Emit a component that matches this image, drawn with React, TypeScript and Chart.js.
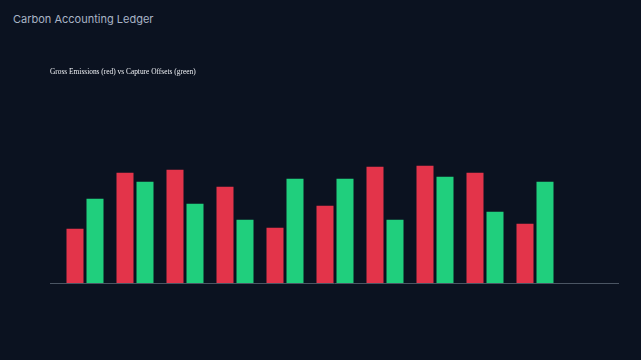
import React, { useEffect, useRef } from "react";
import { Chart, registerables } from "chart.js";

Chart.register(...registerables);

const periods = [0, 1, 2, 3, 4, 5, 6, 7, 8, 9];
const grossEmissions = [54, 110, 113, 96, 55, 77, 116, 117, 110, 59];
const captureOffsets = [84, 101, 79, 63, 104, 104, 63, 106, 71, 101];

export default function App() {
  const ref = useRef<HTMLCanvasElement | null>(null);

  useEffect(() => {
    const canvas = ref.current;
    if (!canvas) return;
    const chart = new Chart(canvas, {
      type: "bar",
      data: {
        datasets: [
          {
            label: "Gross Emissions",
            data: periods.map((p, i) => ({ x: p, y: grossEmissions[i] })),
            backgroundColor: "#e3344a",
            borderWidth: 0,
            categoryPercentage: 0.8,
            barPercentage: 0.85,
          },
          {
            label: "Capture Offsets",
            data: periods.map((p, i) => ({ x: p, y: captureOffsets[i] })),
            backgroundColor: "#20cf7d",
            borderWidth: 0,
            categoryPercentage: 0.8,
            barPercentage: 0.85,
          },
        ],
      },
      options: {
        responsive: false,
        animation: false,
        layout: { padding: { left: 50, right: 23, top: 0, bottom: 77 } },
        plugins: {
          legend: { display: false },
          tooltip: { enabled: false },
          title: {
            display: true,
            text: "Gross Emissions (red) vs Capture Offsets (green)",
            align: "start",
            color: "#eef0f4",
            font: { family: "'Liberation Serif', serif", size: 7.4, weight: "normal" },
            padding: { top: 68, bottom: 5.5 },
          },
        },
        scales: {
          x: {
            type: "linear",
            offset: false,
            min: -0.7,
            max: 10.66,
            grid: { display: false, drawTicks: false },
            ticks: { display: false },
            border: { display: true, color: "#4b5563", width: 1 },
          },
          y: {
            display: false,
            min: 0,
            max: 200,
          },
        },
      },
    });
    return () => chart.destroy();
  }, []);

  return (
    <div
      style={{
        position: "fixed",
        left: 0,
        top: 0,
        width: 641,
        height: 360,
        background: "#0b1220",
        overflow: "hidden",
      }}
    >
      <div
        style={{
          position: "absolute",
          left: 13,
          top: 12,
          fontFamily: "Inter, sans-serif",
          fontSize: 11,
          lineHeight: "14px",
          color: "#a9b4c6",
        }}
      >
        Carbon Accounting Ledger
      </div>
      <canvas
        ref={ref}
        width={641}
        height={360}
        style={{ position: "absolute", left: 0, top: 0 }}
      />
    </div>
  );
}
